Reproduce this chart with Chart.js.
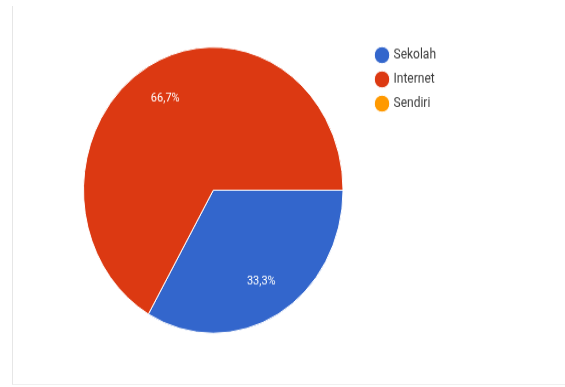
<!DOCTYPE html>
<html>
<head>
<meta charset="utf-8">
<script src="https://cdn.jsdelivr.net/npm/chart.js@4/dist/chart.umd.min.js"></script>
<style>
  html, body { margin: 0; padding: 0; background: #fff; }
  #wrap { position: relative; width: 565px; height: 387px; overflow: hidden; }
  #frame { position: absolute; left: 12px; top: 6px; width: 560px; height: 378px;
           border-left: 1px solid #e6e6e6; border-bottom: 1px solid #f0f0f0; }
  /* the source screenshot is stretched vertically, so the canvas is too */
  #chart { position: absolute; left: 0; top: 0; width: 565px !important; height: 387px !important; }
</style>
</head>
<body>
<div id="wrap">
  <div id="frame"></div>
  <canvas id="chart" width="565" height="351"></canvas>
</div>
<script>
const labels = ["Sekolah", "Internet", "Sendiri"];
const values = [1, 2, 0];
const colors = ["#3366cc", "#dc3912", "#ff9900"];

const total = values.reduce((a, b) => a + b, 0);

// percentage text inside each slice, like google forms
const sliceLabels = {
  id: "sliceLabels",
  afterDatasetsDraw(chart) {
    const ctx = chart.ctx;
    const meta = chart.getDatasetMeta(0);
    ctx.save();
    ctx.fillStyle = "#ffffff";
    ctx.font = "11px Roboto";
    ctx.textAlign = "center";
    ctx.textBaseline = "middle";
    meta.data.forEach((arc, i) => {
      const v = values[i];
      if (!v) return;
      const mid = (arc.startAngle + arc.endAngle) / 2;
      const r = arc.outerRadius * 0.74;
      const x = arc.x + Math.cos(mid) * r;
      const y = arc.y + Math.sin(mid) * r;
      const pct = ((v / total) * 100).toFixed(1).replace(".", ",") + "%";
      ctx.fillText(pct, x, y);
    });
    ctx.restore();
  },
};

// nudge the legend a bit away from the pie
const legendShift = {
  id: "legendShift",
  beforeDraw(chart) {
    const lg = chart.legend;
    lg.left += 23;
    lg.right += 40;
    lg.width += 40;
    lg.top -= 8;
  },
};

new Chart(document.getElementById("chart"), {
  type: "pie",
  data: {
    labels: labels,
    datasets: [
      {
        data: values,
        backgroundColor: colors,
        borderColor: "#ffffff",
        borderWidth: 1,
      },
    ],
  },
  options: {
    responsive: false,
    animation: false,
    rotation: 90,
    layout: { padding: { left: 83, right: 142, top: 42, bottom: 48 } },
    plugins: {
      tooltip: { enabled: false },
      legend: {
        position: "right",
        align: "start",
        labels: {
          usePointStyle: true,
          pointStyle: "circle",
          boxWidth: 11,
          boxHeight: 11,
          padding: 10,
          color: "#3c3c3c",
          font: { family: "Roboto", size: 12 },
        },
      },
    },
  },
  plugins: [sliceLabels, legendShift],
});
</script>
</body>
</html>
